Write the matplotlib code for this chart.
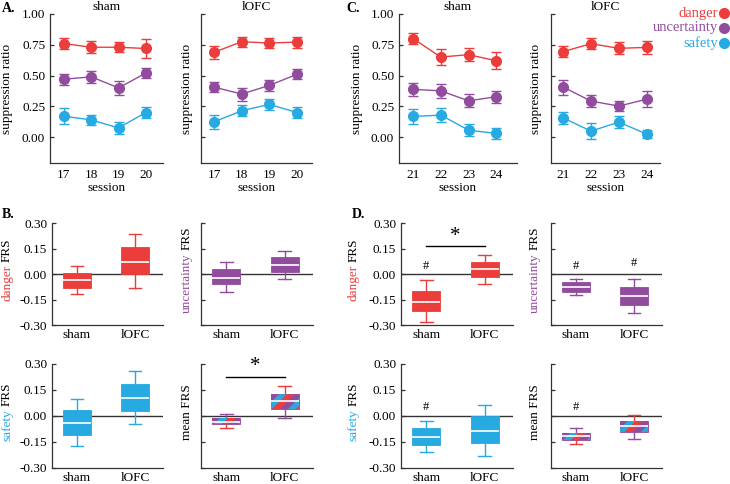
import matplotlib
matplotlib.use("Agg")
import matplotlib.pyplot as plt
from matplotlib.lines import Line2D
from matplotlib.patches import Polygon
from matplotlib.transforms import IdentityTransform

plt.rcParams["font.family"] = ["Liberation Serif", "DejaVu Serif"]
plt.rcParams["axes.unicode_minus"] = False

W, H = 730, 484
RED = "#EC3D3D"
PURPLE = "#924C9E"
BLUE = "#27A9E1"
DARK = "#333333"

# --- data: suppression ratio (mean, sem) ---
sessions_a = [17, 18, 19, 20]
sessions_c = [21, 22, 23, 24]

a_sham_danger = [0.76, 0.73, 0.73, 0.72]
a_sham_danger_err = [0.046, 0.05, 0.04, 0.08]
a_sham_unc = [0.47, 0.49, 0.40, 0.52]
a_sham_unc_err = [0.045, 0.047, 0.057, 0.043]
a_sham_safe = [0.17, 0.14, 0.075, 0.20]
a_sham_safe_err = [0.064, 0.043, 0.046, 0.043]

a_lofc_danger = [0.69, 0.775, 0.764, 0.772]
a_lofc_danger_err = [0.054, 0.04, 0.04, 0.045]
a_lofc_unc = [0.406, 0.35, 0.42, 0.51]
a_lofc_unc_err = [0.043, 0.053, 0.045, 0.04]
a_lofc_safe = [0.125, 0.214, 0.266, 0.20]
a_lofc_safe_err = [0.056, 0.045, 0.046, 0.043]

c_sham_danger = [0.80, 0.65, 0.67, 0.62]
c_sham_danger_err = [0.047, 0.068, 0.05, 0.068]
c_sham_unc = [0.388, 0.376, 0.295, 0.328]
c_sham_unc_err = [0.05, 0.055, 0.053, 0.049]
c_sham_safe = [0.168, 0.179, 0.057, 0.03]
c_sham_safe_err = [0.06, 0.058, 0.046, 0.046]

c_lofc_danger = [0.694, 0.759, 0.721, 0.729]
c_lofc_danger_err = [0.043, 0.045, 0.049, 0.05]
c_lofc_unc = [0.407, 0.293, 0.252, 0.309]
c_lofc_unc_err = [0.061, 0.051, 0.04, 0.064]
c_lofc_safe = [0.157, 0.049, 0.122, 0.024]
c_lofc_safe_err = [0.051, 0.065, 0.046, 0.033]

# --- data: FRS box stats [whislo, q1, med, q3, whishi] ---
groups = ["sham", "lOFC"]
b_danger = [[-0.12, -0.08, -0.037, 0.006, 0.045], [-0.084, -0.002, 0.072, 0.157, 0.233]]
b_unc = [[-0.104, -0.059, -0.024, 0.031, 0.072], [-0.031, 0.01, 0.053, 0.10, 0.137]]
b_safe = [[-0.174, -0.107, -0.04, 0.033, 0.098], [-0.047, 0.028, 0.104, 0.183, 0.258]]
b_mean = [[-0.068, -0.047, -0.034, -0.011, 0.012], [-0.01, 0.04, 0.088, 0.125, 0.175]]

d_danger = [[-0.284, -0.22, -0.163, -0.098, -0.037], [-0.061, -0.02, 0.029, 0.069, 0.112]]
d_unc = [[-0.124, -0.104, -0.078, -0.049, -0.029], [-0.229, -0.18, -0.127, -0.076, -0.029]]
d_safe = [[-0.21, -0.166, -0.12, -0.072, -0.027], [-0.23, -0.158, -0.085, -0.002, 0.065]]
d_mean = [[-0.162, -0.14, -0.118, -0.098, -0.072], [-0.13, -0.092, -0.057, -0.026, 0.005]]

fig = plt.figure(figsize=(W / 100, H / 100), dpi=100)


def px_axes(x0, ytop, w, ybot):
    return fig.add_axes([x0 / W, 1 - ybot / H, w / W, (ybot - ytop) / H])


def style(ax):
    for s in ("top", "right"):
        ax.spines[s].set_visible(False)
    for s in ("left", "bottom"):
        ax.spines[s].set_color(DARK)
        ax.spines[s].set_linewidth(0.9)
    ax.tick_params(direction="in", length=3, width=0.9, color=DARK, labelsize=9.5)
    ax.tick_params(axis="x", length=0)


def ylabel_px(x, yc, parts, size=9.5):
    r = fig.canvas.get_renderer()
    texts = []
    for word, col in parts:
        t = fig.text(x / W, 0, word, rotation=90, color=col, ha="center",
                     va="bottom", fontsize=size)
        texts.append(t)
    hs = [t.get_window_extent(r).height for t in texts]
    gap = 3
    total = sum(hs) + gap * (len(hs) - 1)
    y = (H - yc) - total / 2
    for t, h in zip(texts, hs):
        t.set_y(y / H)
        y += h + gap


def line_panel(ax, sessions, series, xlim, title, labels=True):
    style(ax)
    for vals, errs, col in series:
        ax.errorbar(sessions, vals, yerr=errs, fmt="-o", color=col, ms=7,
                    lw=1, elinewidth=1, capsize=3.5, capthick=1)
    ax.set_xlim(*xlim)
    ax.set_ylim(-0.21, 1.0)
    ax.set_yticks([0, 0.25, 0.5, 0.75, 1.0])
    ax.set_yticklabels(["0.00", "0.25", "0.50", "0.75", "1.00"] if labels else [])
    ax.set_xticks(sessions)
    ax.tick_params(axis="x", pad=4)
    ax.set_xlabel("session", fontsize=9.5, labelpad=1)
    ax.set_title(title, fontsize=9.5, pad=3)


def add_stripes(ax, box, st, pos, width):
    # diagonal purple / blue / red bands, drawn in pixels and clipped to the box
    x0, y0 = ax.transData.transform((pos - width / 2, st[1]))
    x1, y1 = ax.transData.transform((pos + width / 2, st[3]))
    bw = 8
    cols = [PURPLE, BLUE, RED]
    c = x0 - y1 - 3 * bw
    k = 0
    while c < x1 - y0 + bw:
        pts = [(c + y0, y0), (c + bw + y0, y0), (c + bw + y1, y1), (c + y1, y1)]
        p = Polygon(pts, closed=True, facecolor=cols[k % 3], edgecolor="none",
                    transform=IdentityTransform(), zorder=2.5)
        ax.add_patch(p)
        p.set_clip_path(box)
        c += bw
        k += 1


def box_panel(ax, data, color, labels=True, striped=False):
    style(ax)
    ax.axhline(0, color=DARK, lw=1, zorder=1)
    stats = [dict(whislo=s[0], q1=s[1], med=s[2], q3=s[3], whishi=s[4]) for s in data]
    width = 0.48
    bp = ax.bxp(stats, positions=[1, 2], widths=width, showfliers=False,
                patch_artist=True, capwidths=0.22,
                boxprops=dict(facecolor=color, edgecolor=color, lw=0.6),
                medianprops=dict(color="white", lw=1.2, zorder=4),
                whiskerprops=dict(color=color, lw=1),
                capprops=dict(color=color, lw=1))
    ax.set_xlim(0.57, 2.48)
    ax.set_ylim(-0.30, 0.30)
    ax.set_yticks([-0.3, -0.15, 0, 0.15, 0.3])
    ax.set_yticklabels(["-0.30", "-0.15", "0.00", "0.15", "0.30"] if labels else [])
    ax.set_xticks([1, 2])
    ax.set_xticklabels(groups, fontsize=9.5)
    ax.tick_params(axis="x", pad=3)
    if striped:
        for i, (box, st) in enumerate(zip(bp["boxes"], data)):
            box.set_edgecolor(PURPLE)
            add_stripes(ax, box, st, i + 1, width)
        wc = [RED, PURPLE, PURPLE, RED]
        for i, w in enumerate(bp["whiskers"]):
            w.set_color(wc[i])
        for i, cp in enumerate(bp["caps"]):
            cp.set_color(wc[i])
    return ax


def sig(ax, x, y, s, size=9):
    ax.text(x, y, s, ha="center", va="center", fontsize=size)


# --- top row: suppression ratio ---
TOP, BOT = 14, 163
ax = px_axes(50, TOP, 113, BOT)
line_panel(ax, sessions_a, [(a_sham_danger, a_sham_danger_err, RED),
                            (a_sham_unc, a_sham_unc_err, PURPLE),
                            (a_sham_safe, a_sham_safe_err, BLUE)],
           (16.49, 20.63), "sham")
ax = px_axes(201, TOP, 111, BOT)
line_panel(ax, sessions_a, [(a_lofc_danger, a_lofc_danger_err, RED),
                            (a_lofc_unc, a_lofc_unc_err, PURPLE),
                            (a_lofc_safe, a_lofc_safe_err, BLUE)],
           (16.52, 20.55), "lOFC", labels=False)
ax = px_axes(399, TOP, 118, BOT)
line_panel(ax, sessions_c, [(c_sham_danger, c_sham_danger_err, RED),
                            (c_sham_unc, c_sham_unc_err, PURPLE),
                            (c_sham_safe, c_sham_safe_err, BLUE)],
           (20.49, 24.75), "sham")
ax = px_axes(551, TOP, 109, BOT)
line_panel(ax, sessions_c, [(c_lofc_danger, c_lofc_danger_err, RED),
                            (c_lofc_unc, c_lofc_unc_err, PURPLE),
                            (c_lofc_safe, c_lofc_safe_err, BLUE)],
           (20.57, 24.47), "lOFC", labels=False)

for x in (7, 187, 357, 536):
    ylabel_px(x, (TOP + BOT) / 2, [("suppression ratio", "black")])

# --- middle and bottom rows: FRS boxes ---
M_TOP, M_BOT = 223, 325
L_TOP, L_BOT = 364, 468

ax = px_axes(52, M_TOP, 111, M_BOT)
box_panel(ax, b_danger, RED)
ax = px_axes(201, M_TOP, 112, M_BOT)
box_panel(ax, b_unc, PURPLE, labels=False)
ax = px_axes(52, L_TOP, 111, L_BOT)
box_panel(ax, b_safe, BLUE)
ax = px_axes(201, L_TOP, 112, L_BOT)
box_panel(ax, b_mean, PURPLE, labels=False, striped=True)
ax.plot([1, 2], [0.227, 0.227], color="black", lw=1)
sig(ax, 1.5, 0.285, "*", size=15)

ax = px_axes(401, M_TOP, 112, M_BOT)
box_panel(ax, d_danger, RED)
ax.plot([1, 2], [0.165, 0.165], color="black", lw=1)
sig(ax, 1.5, 0.222, "*", size=15)
sig(ax, 1, 0.05, "#")
ax = px_axes(551, M_TOP, 111, M_BOT)
box_panel(ax, d_unc, PURPLE, labels=False)
sig(ax, 1, 0.05, "#")
sig(ax, 2, 0.063, "#")
ax = px_axes(401, L_TOP, 112, L_BOT)
box_panel(ax, d_safe, BLUE)
sig(ax, 1, 0.054, "#")
ax = px_axes(551, L_TOP, 111, L_BOT)
box_panel(ax, d_mean, PURPLE, labels=False, striped=True)
sig(ax, 1, 0.054, "#")

mc, lc = (M_TOP + M_BOT) / 2 - 4, (L_TOP + L_BOT) / 2 - 4
ylabel_px(7, mc, [("danger", RED), ("FRS", "black")])
ylabel_px(187, mc, [("uncertainty", PURPLE), ("FRS", "black")])
ylabel_px(7, lc, [("safety", BLUE), ("FRS", "black")])
ylabel_px(187, lc, [("mean FRS", "black")])
ylabel_px(354, mc, [("danger", RED), ("FRS", "black")])
ylabel_px(535, mc, [("uncertainty", PURPLE), ("FRS", "black")])
ylabel_px(354, lc, [("safety", BLUE), ("FRS", "black")])
ylabel_px(535, lc, [("mean FRS", "black")])

# panel letters
for s, x, y in [("A.", 2, 8), ("C.", 346, 8), ("B.", 2, 214), ("D.", 352, 214)]:
    fig.text(x / W, 1 - y / H, s, fontsize=10, fontweight="bold", va="center")

# legend
for i, (name, col) in enumerate([("danger", RED), ("uncertainty", PURPLE), ("safety", BLUE)]):
    y = 1 - (13 + 15 * i) / H
    fig.text(718 / W, y, name, color=col, ha="right", va="center", fontsize=10.5)
    fig.add_artist(Line2D([724 / W], [y], transform=fig.transFigure, marker="o",
                          ms=7, color=col, ls=""))

fig.savefig("out.png", dpi=100)
